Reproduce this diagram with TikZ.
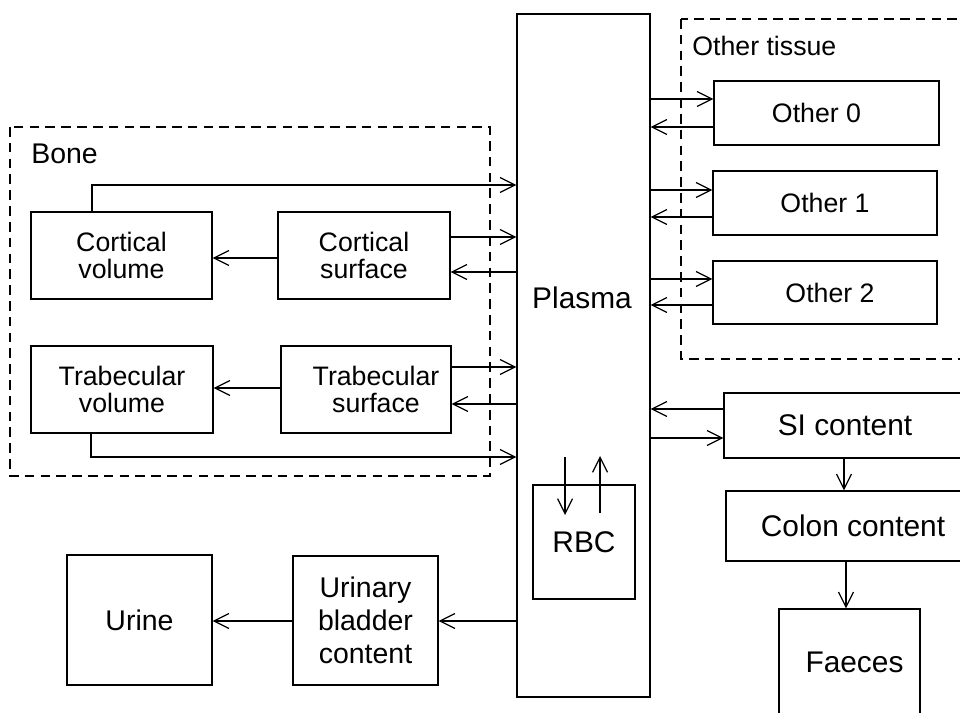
\documentclass[tikz,border=0pt]{standalone}
\usepackage{fontspec}
\setmainfont{Liberation Sans}
\usetikzlibrary{arrows.meta}

\newcommand\smalltxt{\fontsize{15.2}{15.5}\selectfont}
\newcommand\midtxt{\fontsize{16.2}{18.7}\selectfont}
\newcommand\bigtxt{\fontsize{17}{19}\selectfont}

\begin{document}
\begin{tikzpicture}[x=0.02cm,y=-0.02cm,
  >={Straight Barb[length=8.5pt,width=8.5pt]},
  box/.style={draw,line width=0.8pt,inner sep=0pt,align=center,font=\smalltxt},
  flow/.style={->,line width=0.7pt},
  group/.style={draw,dash pattern=on 5.5pt off 3.5pt,line width=0.7pt}]
\useasboundingbox (0,0) rectangle (960,713);

% groups
\draw[group] (10,127) rectangle (490,476);
\node[anchor=base west,inner sep=0pt,font=\midtxt] (bone) at (31,163) {Bone};
\draw[group] (681,19) rectangle (985,359);
\node[anchor=base west,inner sep=0pt,font=\smalltxt] (othertissue) at (692,56) {Other tissue};

% compartments
\node[box,minimum width=2.66cm,minimum height=13.66cm] (plasma) at (583.5,355.5) {};
\node[font=\bigtxt] (plasmatxt) at (582,298) {Plasma};
\node[box,font=\bigtxt,minimum width=2.04cm,minimum height=2.28cm] (rbc) at (584,542) {RBC};

\node[box,minimum width=3.62cm,minimum height=1.74cm] (cvol) at (121.5,255.5) {Cortical\\volume};
\node[box,minimum width=3.44cm,minimum height=1.74cm] (csurf) at (364,255.5) {Cortical\\surface};
\node[box,minimum width=3.64cm,minimum height=1.74cm] (tvol) at (122,389.5) {Trabecular\\volume};
\node[box,minimum width=3.40cm,minimum height=1.74cm] (tsurf) at (366,389.5) {\hspace*{0.4cm}Trabecular\\\hspace*{0.4cm}surface};

\node[box,minimum width=4.50cm,minimum height=1.28cm] (other0) at (826.5,113) {Other 0\hspace*{0.4cm}};
\node[box,minimum width=4.48cm,minimum height=1.28cm] (other1) at (825,203) {Other 1};
\node[box,minimum width=4.48cm,minimum height=1.26cm] (other2) at (825,292.5) {\hspace*{0.2cm}Other 2};

\node[box,font=\bigtxt,minimum width=4.84cm,minimum height=1.30cm] (si) at (845,425.5) {SI content};
\node[box,font=\bigtxt,minimum width=5.08cm,minimum height=1.40cm] (colon) at (853,526) {Colon content};
\node[box,font=\bigtxt,minimum width=2.82cm,minimum height=2.14cm] (faeces) at (849.5,662.5) {\hspace*{0.2cm}Faeces};

\node[box,font=\midtxt,minimum width=2.90cm,minimum height=2.58cm] (ubc) at (365.5,620.5) {Urinary\\bladder\\content};
\node[box,font=\midtxt,minimum width=2.90cm,minimum height=2.60cm] (urine) at (139.5,620) {Urine};

% bone
\draw[flow] (cvol.north -| 92,0) |- (plasma.west |- 0,185);
\draw[flow] (csurf.east |- 0,237) -- (plasma.west |- 0,237);
\draw[flow] (plasma.west |- 0,272) -- (csurf.east |- 0,272);
\draw[flow] (csurf.west |- 0,258) -- (cvol.east |- 0,258);
\draw[flow] (tsurf.west |- 0,388) -- (tvol.east |- 0,388);
\draw[flow] (tsurf.east |- 0,367) -- (plasma.west |- 0,367);
\draw[flow] (plasma.west |- 0,404) -- (tsurf.east |- 0,404);
\draw[flow] (tvol.south -| 91,0) |- (plasma.west |- 0,457);

% other tissue
\foreach \o/\a/\b in {other0/99/127,other1/190/217,other2/279/305}{
  \draw[flow] (plasma.east |- 0,\a) -- (\o.west |- 0,\a);
  \draw[flow] (\o.west |- 0,\b) -- (plasma.east |- 0,\b);
}

% gut
\draw[flow] (si.west |- 0,409) -- (plasma.east |- 0,409);
\draw[flow] (plasma.east |- 0,438) -- (si.west |- 0,438);
\draw[flow] (si.south -| 844,0) -- (colon.north -| 844,0);
\draw[flow] (colon.south -| 846,0) -- (faeces.north -| 846,0);

% red cells
\coordinate (rbcin) at (565,457);
\coordinate (rbcdown) at (565,515);
\coordinate (rbcup) at (600,513);
\coordinate (rbcout) at (600,456);
\draw[flow] (rbcin) -- (rbcdown);
\draw[flow] (rbcup) -- (rbcout);

% urine
\draw[flow] (plasma.west |- 0,621) -- (ubc.east |- 0,621);
\draw[flow] (ubc.west |- 0,621) -- (urine.east |- 0,621);
\end{tikzpicture}
\end{document}
